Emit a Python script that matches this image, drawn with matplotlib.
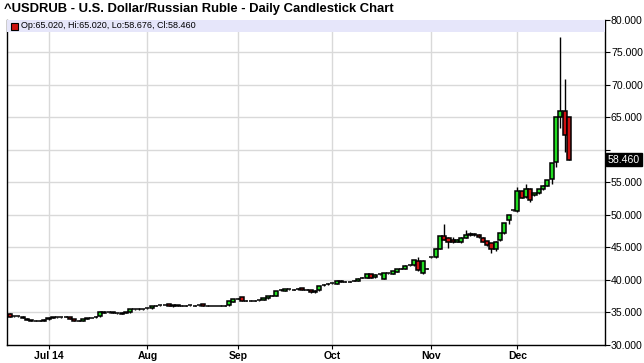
import matplotlib
matplotlib.use("Agg")
import matplotlib.pyplot as plt
import matplotlib.transforms as mtransforms
from matplotlib.patches import Rectangle
import numpy as np
import pandas as pd

plt.rcParams["font.family"] = ["Liberation Sans", "DejaVu Sans"]

# daily candles, first session 2014-06-18
start_date = "2014-06-18"
opens = [
    34.75, 34.40, 34.42, 34.35, 34.05, 33.80, 33.72, 33.70, 33.70, 33.95,
    34.22, 34.25, 34.28, 34.30, 34.30, 33.95, 33.75, 33.75, 34.05, 34.15,
    34.25, 34.40, 35.10, 35.00, 35.05, 34.85, 34.78, 34.98, 35.00, 35.50,
    35.50, 35.52, 35.62, 35.65, 36.02, 36.08, 36.12, 36.30, 35.95, 36.00,
    36.05, 36.05, 36.08, 36.05, 36.10, 36.25, 36.00, 36.00, 35.98, 36.00,
    36.02, 36.10, 36.65, 37.08, 37.30, 36.80, 36.82, 36.80, 36.85, 36.90,
    37.15, 37.55, 37.55, 38.40, 38.35, 38.55, 38.50, 38.60, 38.70, 38.50,
    38.40, 38.10, 38.40, 39.20, 39.35, 39.45, 39.35, 39.85, 39.70, 39.72,
    39.85, 39.90, 40.30, 40.30, 40.85, 40.40, 40.85, 40.20, 41.05, 40.90,
    41.20, 41.70, 41.65, 42.25, 42.25, 42.90, 41.00, 41.75, 43.45, 43.55,
    44.80, 46.75, 46.50, 46.20, 45.85, 45.75, 46.50, 47.10, 47.05, 46.90,
    46.50, 45.95, 45.60, 44.80, 46.10, 47.20, 49.15, 50.70, 50.60, 53.60,
    52.75, 54.00, 53.00, 53.30, 53.90, 54.50, 55.45, 58.10, 65.00, 66.00,
    65.02,
]
highs = [
    34.85, 34.48, 34.47, 34.40, 34.10, 33.85, 33.78, 33.78, 33.95, 34.25,
    34.32, 34.33, 34.36, 34.40, 34.35, 34.00, 33.80, 34.05, 34.12, 34.22,
    34.38, 35.15, 35.15, 35.05, 35.10, 34.90, 35.00, 35.05, 35.55, 35.60,
    35.62, 35.60, 35.72, 36.05, 36.12, 36.15, 36.20, 36.35, 36.20, 36.15,
    36.12, 36.15, 36.15, 36.12, 36.18, 36.32, 36.08, 36.06, 36.05, 36.08,
    36.10, 36.80, 37.05, 37.20, 37.40, 36.90, 36.90, 36.95, 36.92, 37.20,
    37.55, 37.62, 38.35, 38.55, 38.60, 38.62, 38.58, 38.70, 38.78, 38.58,
    38.45, 38.40, 39.10, 39.30, 39.45, 39.55, 39.95, 39.95, 39.78, 39.80,
    39.95, 40.25, 40.38, 40.90, 40.92, 40.85, 40.92, 41.05, 41.12, 41.40,
    41.70, 41.80, 42.25, 42.35, 43.05, 43.45, 43.00, 41.85, 43.55, 44.85,
    46.75, 48.65, 46.60, 46.60, 46.30, 46.55, 47.60, 47.30, 47.25, 47.00,
    46.60, 46.05, 45.70, 45.90, 47.25, 48.80, 49.95, 50.80, 54.20, 53.70,
    54.80, 54.10, 53.40, 53.95, 54.55, 55.35, 57.95, 65.05, 77.30, 70.90,
    65.02,
]
lows = [
    34.30, 34.35, 34.35, 34.15, 33.80, 33.70, 33.65, 33.65, 33.65, 33.90,
    34.18, 34.20, 34.22, 34.25, 34.00, 33.70, 33.70, 33.70, 34.00, 34.10,
    34.20, 34.35, 34.90, 34.95, 34.85, 34.78, 34.72, 34.92, 34.95, 35.40,
    35.42, 35.45, 35.58, 35.60, 35.98, 36.02, 36.08, 36.00, 35.90, 35.95,
    35.98, 35.98, 36.00, 35.98, 36.02, 35.92, 35.92, 35.94, 35.92, 35.94,
    35.96, 36.05, 36.60, 37.00, 36.75, 36.72, 36.75, 36.72, 36.78, 36.85,
    37.10, 37.48, 37.50, 38.32, 38.30, 38.48, 38.42, 38.52, 38.40, 38.42,
    38.05, 38.05, 38.35, 39.10, 39.25, 39.38, 39.30, 39.65, 39.62, 39.65,
    39.78, 39.85, 40.22, 40.25, 40.30, 40.35, 40.78, 40.15, 40.98, 40.85,
    41.15, 41.62, 41.60, 42.15, 42.15, 41.30, 40.90, 41.65, 43.35, 43.40,
    44.70, 46.10, 44.90, 45.70, 45.75, 45.60, 46.40, 46.80, 46.75, 46.50,
    45.75, 45.20, 44.20, 44.50, 45.95, 47.10, 48.60, 50.60, 50.40, 52.55,
    52.60, 52.00, 52.90, 53.20, 53.80, 54.40, 54.80, 57.35, 63.30, 59.60,
    58.46,
]
closes = [
    34.35, 34.42, 34.38, 34.20, 33.85, 33.75, 33.70, 33.72, 33.90, 34.20,
    34.25, 34.28, 34.30, 34.32, 34.05, 33.75, 33.76, 34.00, 34.10, 34.20,
    34.35, 35.10, 34.95, 35.00, 34.90, 34.85, 34.98, 35.00, 35.50, 35.52,
    35.52, 35.55, 35.65, 36.00, 36.05, 36.10, 36.15, 36.05, 36.15, 36.10,
    36.05, 36.05, 36.10, 36.05, 36.10, 35.95, 36.00, 36.00, 35.98, 36.00,
    36.05, 36.75, 37.00, 37.10, 36.80, 36.80, 36.82, 36.80, 36.85, 37.15,
    37.50, 37.55, 38.30, 38.42, 38.55, 38.55, 38.50, 38.60, 38.45, 38.50,
    38.10, 38.35, 39.05, 39.20, 39.35, 39.45, 39.90, 39.70, 39.70, 39.72,
    39.85, 40.20, 40.30, 40.85, 40.35, 40.80, 40.85, 41.00, 41.05, 41.35,
    41.65, 41.70, 42.20, 42.25, 43.00, 41.50, 42.90, 41.75, 43.45, 44.80,
    46.70, 46.20, 45.75, 45.85, 46.20, 46.50, 46.95, 46.90, 46.85, 46.60,
    45.85, 45.35, 44.80, 45.85, 47.20, 48.75, 49.90, 50.70, 53.60, 52.65,
    53.90, 52.20, 53.35, 53.90, 54.50, 55.30, 57.90, 65.00, 66.00, 62.20,
    58.46,
]

month_labels = ["Jul 14", "Aug", "Sep", "Oct", "Nov", "Dec"]
y_ticks = [30, 35, 40, 45, 50, 55, 60, 65, 70, 75, 80]
title = "^USDRUB - U.S. Dollar/Russian Ruble - Daily Candlestick Chart"
legend_text = "Op:65.020, Hi:65.020, Lo:58.676, Cl:58.460"
last_price = 58.460

UP = "#22dd22"
DOWN = "#cc1111"
GRID = "#d9d9d9"
BAND = "#e6e6fa"

W, H = 644, 363
fig = plt.figure(figsize=(W / 100, H / 100), dpi=100)
fig.patch.set_facecolor("white")

# plot box in pixels: left 7, right 605, top 19.5, bottom 345
ax = fig.add_axes([7 / W, (H - 345) / H, 598 / W, 325.5 / H])

dates = pd.bdate_range(start_date, periods=len(closes))
x = np.arange(len(closes))
o = np.array(opens)
c = np.array(closes)
up = c >= o

ax.vlines(x, lows, highs, color="black", linewidth=1.0, zorder=3)
ax.bar(x, np.abs(c - o), bottom=np.minimum(o, c), width=0.95,
       color=np.where(up, UP, DOWN), edgecolor="black", linewidth=1.1, zorder=4)

ax.set_xlim(-0.65, 138.4)
ax.set_ylim(30, 80)

# month grid at first session of each month
first_idx = [int(np.argmax(dates.month == m)) for m in [7, 8, 9, 10, 11, 12]]
ax.set_xticks(first_idx)
ax.set_xticklabels(month_labels, fontsize=7.5, fontweight="bold")
ax.set_yticks(y_ticks)
ax.set_yticklabels(["" if v in (60,) else f"{v:.3f}" for v in y_ticks], fontsize=7.6)
ax.yaxis.tick_right()
ax.tick_params(axis="y", length=3.5, width=0.8, pad=0.8, colors="black")
ax.tick_params(axis="x", length=3, width=0.8, pad=1.5)
ax.grid(True, color=GRID, linewidth=1, zorder=0)
ax.set_axisbelow(True)

for side in ["left", "bottom", "right"]:
    ax.spines[side].set_color("black")
    ax.spines[side].set_linewidth(1)
ax.spines["top"].set_visible(False)

# header band at the top of the plot
ax.axhspan(78.1, 80, color=BAND, zorder=5, linewidth=0)

# legend inside the band
fig.patches.append(Rectangle((11 / W, (H - 29.5) / H), 7 / W, 7 / H,
                             transform=fig.transFigure, facecolor=DOWN,
                             edgecolor="black", linewidth=0.8, zorder=6))
fig.text(21 / W, (H - 26) / H, legend_text, fontsize=6.5, va="center", ha="left")

fig.text(4 / W, (H - 9) / H, title, fontsize=9.4, fontweight="bold",
         va="center", ha="left")

# last price marker on the price axis
trans = mtransforms.blended_transform_factory(ax.transAxes, ax.transData)
ax.text(1.005, last_price, f"{last_price:.3f}", transform=trans, fontsize=7.6,
        color="white", va="center", ha="left", zorder=10,
        bbox=dict(facecolor="black", edgecolor="black", pad=1.2))

fig.savefig("out.png", dpi=100)
